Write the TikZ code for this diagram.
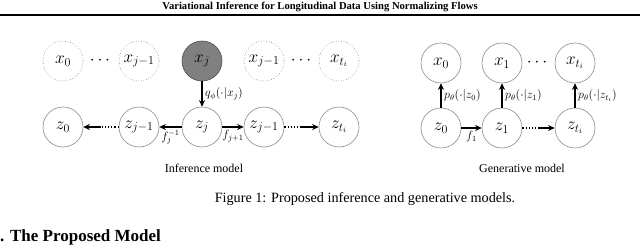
\documentclass[tikz,border=0pt]{standalone}
\usepackage{fontspec}
\setmainfont{Liberation Serif}
\usetikzlibrary{arrows.meta,calc}
\begin{document}
\begin{tikzpicture}[x=1pt,y=-1pt,
  var/.style={circle,draw=black!45,line width=0.6pt,minimum size=40pt,inner sep=0pt,font=\fontsize{16.5}{18}\selectfont},
  obsvar/.style={var,dotted,draw=black!50},
  shadedvar/.style={var,draw=black!70,fill=black!50},
  dotsnode/.style={inner sep=0pt,font=\fontsize{16}{18}\selectfont},
  arr/.style={-{Stealth[length=6.5pt,width=6pt]},line width=1.2pt},
  dotline/.style={dotted,line width=1.2pt},
  lbl/.style={font=\fontsize{11.5}{13}\selectfont,inner sep=2.5pt},
  subcap/.style={font=\fontsize{12}{14}\selectfont},
]
\useasboundingbox (0,0) rectangle (640,251);
% header
\node[font=\bfseries\fontsize{10.6}{12}\selectfont] (hdr) at (320,7) {Variational Inference for Longitudinal Data Using Normalizing Flows};
\coordinate (rl) at (0,15);
\coordinate (rr) at (640,15);
\draw[line width=1.4pt] (rl) -- (rr);

% inference model
\node[obsvar] (ix0) at (63,61) {$x_0$};
\node[dotsnode] (idl) at (100,61) {$\cdots$};
\node[obsvar] (ixjm) at (139,61) {$x_{j-1}$};
\node[shadedvar] (ixj) at (202,61) {$x_j$};
\node[obsvar] (ixjp) at (264,61) {$x_{j-1}$};
\node[dotsnode] (idr) at (301,61) {$\cdots$};
\node[obsvar] (ixt) at (339,61) {$x_{t_i}$};

\node[var] (iz0) at (63,127) {$z_0$};
\node[var] (izjm) at (139,127) {$z_{j-1}$};
\node[var] (izj) at (202,127) {$z_j$};
\node[var] (izjp) at (264,127) {$z_{j-1}$};
\node[var] (izt) at (339,127) {$z_{t_i}$};

\draw[arr] (ixj) -- node[lbl,right] {$q_\phi(\cdot|x_j)$} (izj);
\draw[arr] (izj) -- node[lbl,below] {$f_j^{-1}$} (izjm);
\draw[arr] (izj) -- node[lbl,below] {$f_{j+1}$} (izjp);
\coordinate (iml) at ($(izjm.west)!0.5!(iz0.east)$);
\draw[dotline] (izjm.west) -- (iml);
\draw[arr] (iml) -- (iz0.east);
\coordinate (imr) at ($(izjp.east)!0.5!(izt.west)$);
\draw[dotline] (izjp.east) -- (imr);
\draw[arr] (imr) -- (izt.west);

\node[subcap] (icap) at (204,168) {Inference model};

% generative model
\node[var] (gx0) at (441,63) {$x_0$};
\node[var] (gx1) at (502,63) {$x_1$};
\node[dotsnode] (gd) at (537,63) {$\cdots$};
\node[var] (gxt) at (575,63) {$x_{t_i}$};
\node[var] (gz0) at (441,128) {$z_0$};
\node[var] (gz1) at (502,128) {$z_1$};
\node[var] (gzt) at (575,128) {$z_{t_i}$};

\draw[arr] (gz0) -- node[lbl,right] {$p_\theta(\cdot|z_0)$} (gx0);
\draw[arr] (gz1) -- node[lbl,right] {$p_\theta(\cdot|z_1)$} (gx1);
\draw[arr] (gzt) -- node[lbl,right] {$p_\theta(\cdot|z_{t_i})$} (gxt);
\draw[arr] (gz0) -- node[lbl,below] {$f_1$} (gz1);
\coordinate (gm) at ($(gz1.east)!0.5!(gzt.west)$);
\draw[dotline] (gz1.east) -- (gm);
\draw[arr] (gm) -- (gzt.west);

\node[subcap] (gcap) at (522,168) {Generative model};

% caption and heading
\node[font=\fontsize{14.2}{16}\selectfont] (fig) at (365,199) {Figure 1: Proposed inference and generative models.};
\node[font=\bfseries\fontsize{17}{20}\selectfont,anchor=west,inner sep=0pt] (sec) at (0,237) {. The Proposed Model};
\end{tikzpicture}
\end{document}
